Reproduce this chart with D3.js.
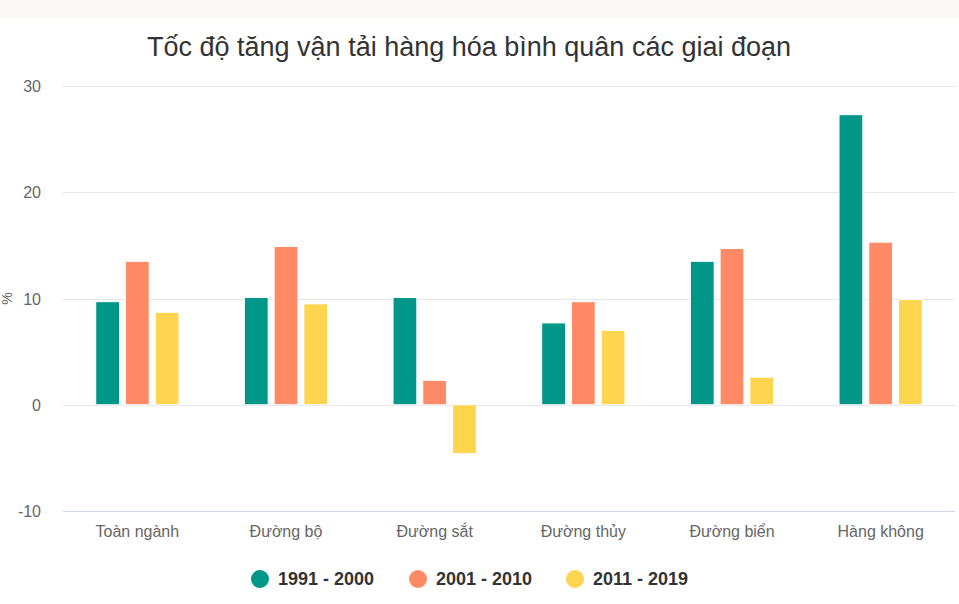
<!DOCTYPE html>
<html lang="vi">
<head>
<meta charset="UTF-8">
<title>Tốc độ tăng vận tải hàng hóa</title>
<script src="https://d3js.org/d3.v7.min.js"></script>
<style>
  body { margin: 0; padding: 0; overflow: hidden; background: #fff; font-family: "Liberation Sans", Arial, sans-serif; }
  .grid line { stroke: #e6e6e6; }
  .axis text { fill: #666; font-size: 16px; }
</style>
</head>
<body>
<svg id="chart" width="959" height="604"></svg>
<script>
// data
const categories = ["Toàn ngành", "Đường bộ", "Đường sắt", "Đường thủy", "Đường biển", "Hàng không"];
const seriesNames = ["1991 - 2000", "2001 - 2010", "2011 - 2019"];
const s1991 = [9.7, 10.1, 10.1, 7.7, 13.5, 27.3];
const s2001 = [13.5, 14.9, 2.3, 9.7, 14.7, 15.3];
const s2011 = [8.7, 9.5, -4.6, 7.0, 2.6, 9.9];
const yTicks = [-10, 0, 10, 20, 30];
const colors = ["#009688", "#ff8a65", "#ffd54f"];

const seriesValues = [s1991, s2001, s2011];

const svg = d3.select("#chart");

// top strip
svg.append("rect").attr("x", 0).attr("y", 0).attr("width", 959).attr("height", 18).attr("fill", "#f9f8f5");

const plot = { left: 63, right: 955, top: 86, bottom: 511 };

const y = d3.scaleLinear().domain([-10, 30]).range([plot.bottom, plot.top]);
const x0 = d3.scaleBand().domain(categories).range([plot.left, plot.right]);
// group padding 0.2 on each side of a category, point padding 0.1 per slot
const bw = x0.bandwidth();
const x1 = d3.scaleBand().domain(seriesNames).range([0.2 * bw, 0.8 * bw]);
const barW = x1.step() * 0.8;

// gridlines
svg.append("g").attr("class", "grid")
  .selectAll("line").data(yTicks.filter(d => d !== -10)).enter().append("line")
  .attr("x1", plot.left).attr("x2", plot.right)
  .attr("y1", d => Math.round(y(d)) + 0.5).attr("y2", d => Math.round(y(d)) + 0.5);

// x axis line
svg.append("line")
  .attr("x1", plot.left).attr("x2", plot.right)
  .attr("y1", Math.round(y(-10)) + 0.5).attr("y2", Math.round(y(-10)) + 0.5)
  .attr("stroke", "#ccd6eb");

// y axis labels
const yAxis = svg.append("g").attr("class", "axis")
  .attr("transform", `translate(${plot.left - 22},0)`)
  .call(d3.axisLeft(y).tickValues(yTicks).tickFormat(d => String(d)).tickSize(0).tickPadding(0));
yAxis.select(".domain").remove();
yAxis.selectAll("text").attr("dy", "0.35em").style("font-family", "inherit");

// y axis title
svg.append("text")
  .attr("transform", `translate(12,${(plot.top + plot.bottom) / 2}) rotate(-90)`)
  .attr("text-anchor", "middle")
  .attr("fill", "#666").style("font-size", "14px")
  .text("%");

// x axis labels
const xAxis = svg.append("g").attr("class", "axis")
  .attr("transform", `translate(0,${plot.bottom})`)
  .call(d3.axisBottom(x0).tickSize(0).tickPadding(15));
xAxis.select(".domain").remove();
xAxis.selectAll("text").style("font-family", "inherit");

// bars
const groups = svg.selectAll(".cat").data(categories).enter().append("g")
  .attr("transform", d => `translate(${x0(d)},0)`);

seriesNames.forEach((name, si) => {
  groups.append("rect")
    .attr("x", x1(name) + (x1.step() - barW) / 2)
    .attr("width", barW)
    .attr("y", (d, i) => y(Math.max(0, seriesValues[si][i])))
    .attr("height", (d, i) => Math.abs(y(seriesValues[si][i]) - y(0)))
    .attr("fill", colors[si])
    .attr("stroke", "#fff").attr("stroke-width", 1);
});

// title
svg.append("text")
  .attr("x", 469).attr("y", 56)
  .attr("text-anchor", "middle")
  .attr("fill", "#333").style("font-size", "27px")
  .text("Tốc độ tăng vận tải hàng hóa bình quân các giai đoạn");

// legend
const legendX = [260, 418, 575];
const legend = svg.selectAll(".legend").data(seriesNames).enter().append("g")
  .attr("transform", (d, i) => `translate(${legendX[i]},579)`);
legend.append("circle").attr("r", 9).attr("fill", (d, i) => colors[i]);
legend.append("text").attr("x", 18).attr("dy", "0.35em")
  .attr("fill", "#333").style("font-size", "18px").style("font-weight", "bold")
  .text(d => d);
</script>
</body>
</html>
